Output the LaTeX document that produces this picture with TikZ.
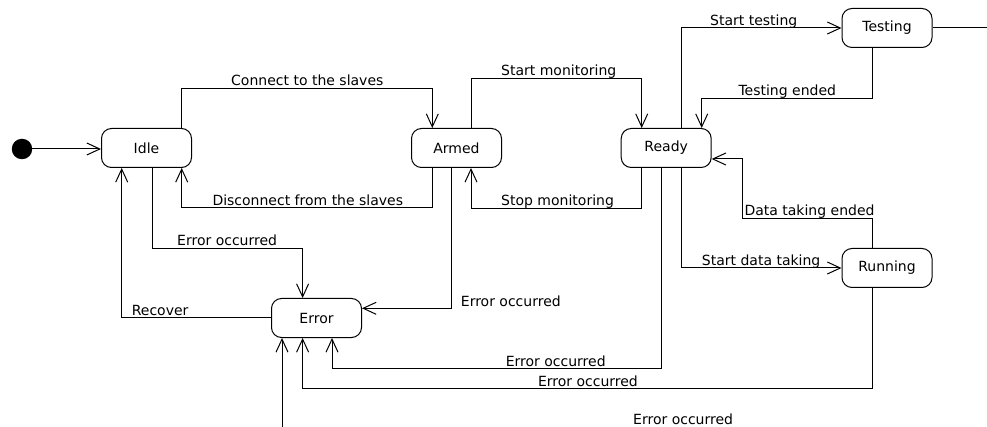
\documentclass[tikz,border=0pt]{standalone}
\usepackage{fontspec}
\setmainfont{DejaVu Sans}
\usetikzlibrary{arrows.meta}
\begin{document}
\begin{tikzpicture}[x=1pt,y=-1pt,
  font=\fontsize{14}{16}\selectfont,
  state/.style={draw, line width=1pt, rounded corners=10pt, minimum width=90pt, minimum height=39pt, inner sep=0pt},
  tr/.style={line width=1pt, -{Straight Barb[length=13pt,width=12pt,line width=1pt]}},
  ln/.style={line width=1pt},
  lbl/.style={anchor=base west, inner sep=0pt}]
\useasboundingbox (0,0) rectangle (987,427);
% nodes
\node[circle, fill=black, minimum size=20.5pt, inner sep=0pt] (init) at (22,149) {};
\node[state] (idle) at (146.5,148) {Idle};
\node[state] (armed) at (456.5,148) {Armed};
\node[state] (ready) at (666.2,148) {Ready};
\node[state] (testing) at (887,28) {Testing};
\node[state] (running) at (887,268) {Running};
\node[state] (error) at (316.5,318) {Error};
\coordinate (out) at (987,28);
\coordinate (errsrc) at (282,427);
% connectors
\draw[tr] (init) -- (init -| idle.west);
\draw[tr] ([xshift=35.2pt]idle.north) -- (181.7,88.3) -- (432.3,88.3) -- ([xshift=-24.2pt]armed.north);
\draw[tr] ([xshift=-24.2pt]armed.south) -- (432.3,207.7) -- (181.7,207.7) -- ([xshift=35.2pt]idle.south);
\draw[tr] ([xshift=14.5pt]armed.north) -- (471,78.3) -- (641.7,78.3) -- ([xshift=-24.5pt]ready.north);
\draw[tr] ([xshift=-24.5pt]ready.south) -- (641.7,208.3) -- (471,208.3) -- ([xshift=14.5pt]armed.south);
\draw[tr] ([xshift=15.5pt]ready.north) -- (681.7,28) -- (testing.west);
\draw[tr] ([xshift=-14.3pt]testing.south) -- (872.7,98.3) -- (701.7,98.3) -- ([xshift=35.5pt]ready.north);
\draw[ln] (testing.east) -- (out);
\draw[tr] ([xshift=15.5pt]ready.south) -- (681.7,268) -- (running.west);
\draw[tr] ([xshift=-14.3pt]running.north) -- (872.7,218.3) -- (742.3,218.3) -- (742.3,159) -- ([yshift=-11pt]ready.east);
\draw[tr] ([xshift=5.5pt]idle.south) -- (152,248.3) -- (302.6,248.3) -- ([xshift=-13.9pt]error.north);
\draw[tr] (error.west) -- (121.7,318) -- ([xshift=-24.8pt]idle.south);
\draw[tr] ([xshift=-4.8pt]armed.south) -- (451.7,308.3) -- ([yshift=9.7pt]error.east);
\draw[tr] ([xshift=-4.5pt]ready.south) -- (661.7,368.3) -- (332,368.3) -- ([xshift=15.5pt]error.south);
\draw[tr] ([xshift=-14.3pt]running.south) -- (872.7,388.3) -- (302.6,388.3) -- ([xshift=-13.9pt]error.south);
\draw[tr] (errsrc) -- ([xshift=-34.5pt]error.south);
% labels
\node[lbl] (l1) at (231,86) {Connect to the slaves};
\node[lbl] (l2) at (212.3,205.5) {Disconnect from the slaves};
\node[lbl] (l3) at (501,76) {Start monitoring};
\node[lbl] (l4) at (501,206) {Stop monitoring};
\node[lbl] (l5) at (710,25.5) {Start testing};
\node[lbl] (l6) at (738.3,96) {Testing ended};
\node[lbl] (l7) at (744.3,216) {Data taking ended};
\node[lbl] (l8) at (701.7,266) {Start data taking};
\node[lbl] (l9) at (177,245.5) {Error occurred};
\node[lbl] (l10) at (131.6,316) {Recover};
\node[lbl] (l11) at (460.7,306) {Error occurred};
\node[lbl] (l12) at (505.6,366) {Error occurred};
\node[lbl] (l13) at (537.8,386) {Error occurred};
\node[lbl] (l14) at (633,424.5) {Error occurred};
\end{tikzpicture}
\end{document}
